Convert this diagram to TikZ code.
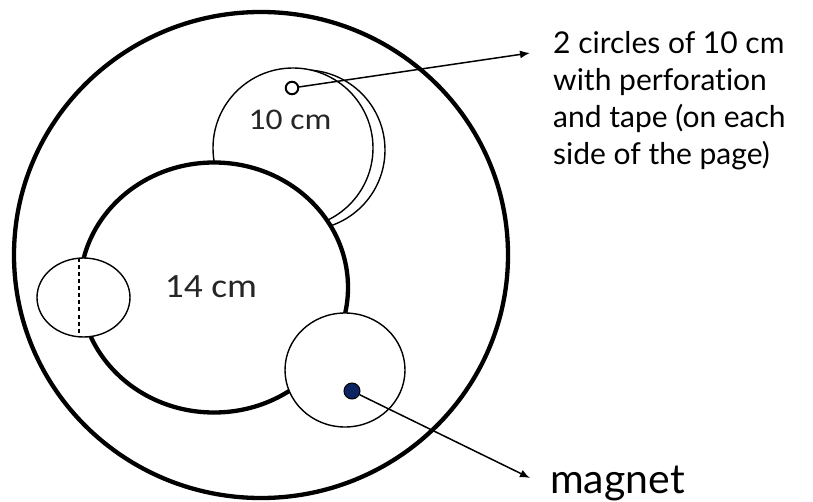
\documentclass[tikz,border=0pt]{standalone}
\usepackage{fontspec}
\setmainfont{Lato}[Ligatures={NoCommon,NoRare}]
\newfontfamily\calib{Carlito}
\usetikzlibrary{arrows.meta}
\definecolor{navydot}{RGB}{12,36,97}
\begin{document}
\begin{tikzpicture}[x=1pt,y=-1pt,
  thickline/.style={line width=4.3pt},
  thinline/.style={line width=1.4pt},
  callout/.style={line width=1.5pt,-{Latex[length=10pt,width=8pt]}},
  notetext/.style={font=\fontsize{30}{37}\selectfont,anchor=base west,inner sep=0pt},
  dimtext/.style={font=\calib\fontsize{30}{36}\selectfont,text=black!85,anchor=base,inner sep=0pt}]
\useasboundingbox (0,0) rectangle (813,502);
% outer disc
\draw[thickline] (261,255) ellipse [x radius=247pt, y radius=243pt];
% second 10 cm circle (offset)
\draw[thinline] (305,150) circle [radius=80pt];
% first 10 cm circle
\draw[thinline,fill=white] (293,148) circle [radius=80pt];
\node[circle,draw,line width=2pt,minimum size=12.5pt,inner sep=0pt] (hole) at (292,88) {};
\node[dimtext] (ten) at (290,130) {\scalebox{1.12}[1]{10 cm}};
% 14 cm circle
\draw[thickline,fill=white] (214,287.5) ellipse [x radius=134pt, y radius=125pt];
\node[dimtext,font=\calib\fontsize{34}{40}\selectfont] (fourteen) at (211,298) {\scalebox{1.1}[1]{14 cm}};
% left small circle with fold line
\draw[thinline,fill=white] (83.5,297.5) ellipse [x radius=46.5pt, y radius=39.5pt];
\draw[line width=1.4pt,dash pattern=on 4pt off 3pt] (79,258.5) -- (79,336.5);
% magnet circle
\draw[thinline,fill=white] (345,370) ellipse [x radius=60pt, y radius=57pt];
\node[circle,draw=black,fill=navydot,line width=1pt,minimum size=16pt,inner sep=0pt] (dot) at (352,391) {};
% labels
\coordinate (end1) at (530,53);
\coordinate (end2) at (530,478);
\draw[callout] (hole) -- (end1);
\draw[callout] (dot) -- (end2);
\node[notetext] (t1) at (553,54) {2 circles of 10 cm};
\node[notetext] (t2) at (553,91) {with perforation};
\node[notetext] (t3) at (553,128) {and tape (on each};
\node[notetext] (t4) at (553,165) {side of the page)};
\node[notetext,font=\fontsize{41}{48}\selectfont] (mag) at (550,493) {magnet};
\end{tikzpicture}
\end{document}
